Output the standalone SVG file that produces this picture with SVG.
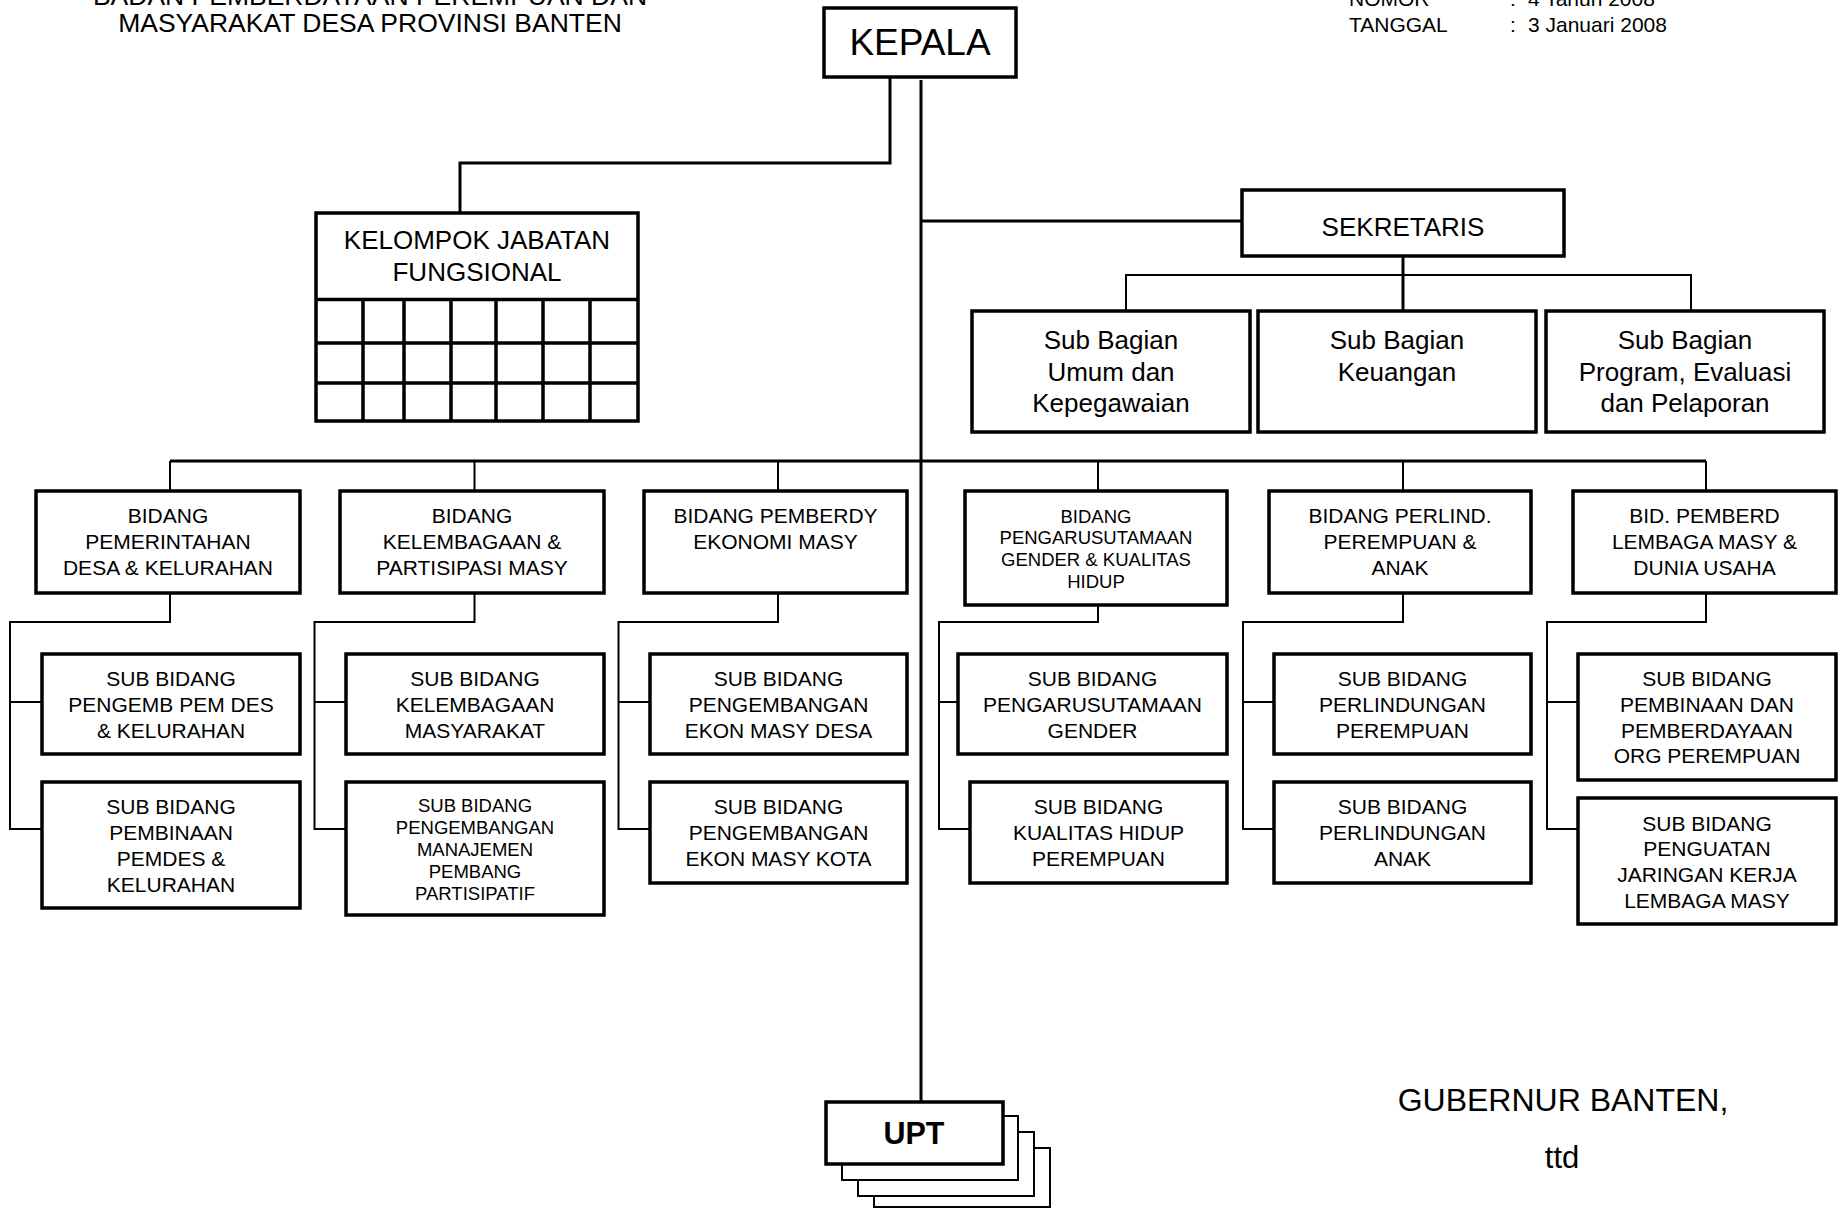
<svg xmlns="http://www.w3.org/2000/svg" width="1842" height="1209" viewBox="0 0 1842 1209">
  <style>
    text { font-family: "Liberation Sans", Arial, sans-serif; fill: #000; text-anchor: middle; }
    .box { fill: #fff; stroke: #000; stroke-width: 3.5; }
    .grid { fill: none; stroke: #000; stroke-width: 3.5; }
    .thick { fill: none; stroke: #000; stroke-width: 3; }
    .thin { fill: none; stroke: #000; stroke-width: 2; }
    .layer { fill: #fff; stroke: #000; stroke-width: 2; }
    .t26 { font-size: 26px; }
    .t21 { font-size: 21px; }
    .t18 { font-size: 18.5px; }
    .hdr { font-size: 21px; text-anchor: start; }
  </style>
  <rect width="1842" height="1209" fill="#fff"/>

  <!-- heading -->
  <g id="heading">
    <text x="370" y="5" style="font-size:26.5px">BADAN PEMBERDAYAAN PEREMPUAN DAN</text>
    <text x="370" y="32" style="font-size:26.5px">MASYARAKAT DESA PROVINSI BANTEN</text>
    <text class="hdr" x="1349" y="6">NOMOR</text>
    <text class="hdr" x="1510" y="6">:</text>
    <text class="hdr" x="1528" y="6">4 Tahun 2008</text>
    <text class="hdr" x="1349" y="32">TANGGAL</text>
    <text class="hdr" x="1510" y="32">:</text>
    <text class="hdr" x="1528" y="32">3 Januari 2008</text>
  </g>

  <!-- connectors -->
  <g id="connectors">
    <path class="thick" d="M890,77 V163 H460 V213"/>
    <path class="thick" d="M921,80 V1102"/>
    <path class="thick" d="M921,221 H1242"/>
    <path class="thick" d="M1403,256 V311"/>
    <path class="thin" d="M1126,311 V275 H1691 V311"/>
    <path class="thick" d="M170,461 H1706"/>
    <path class="thin" d="M170,461 V491 M474.5,461 V491 M778,461 V491 M1098,461 V491 M1403,461 V491 M1706,461 V491"/>
    <path class="thin" d="M170,593 V622 H10 V829 H42 M10,702 H42"/>
    <path class="thin" d="M474.5,593 V622 H314.5 V829 H346 M314.5,702 H346"/>
    <path class="thin" d="M778,593 V622 H618.5 V829 H650 M618.5,702 H650"/>
    <path class="thin" d="M1098,605 V622 H939 V829 H970 M939,702 H958"/>
    <path class="thin" d="M1403,593 V622 H1243 V829 H1274 M1243,702 H1274"/>
    <path class="thin" d="M1706,593 V622 H1547 V829 H1578 M1547,702 H1578"/>
  </g>

  <g id="kepala">
    <rect class="box" x="824" y="8" width="192" height="69"/>
    <text x="920" y="55" style="font-size:37px">KEPALA</text>
  </g>

  <g id="kelompok-jabatan-fungsional">
    <rect class="box" x="316" y="213" width="322" height="208"/>
    <path class="grid" d="M316,299.5 H638 M316,343 H638 M316,383 H638 M363,299.5 V421 M404,299.5 V421 M451,299.5 V421 M496,299.5 V421 M543,299.5 V421 M590,299.5 V421"/>
    <text class="t26" x="477" y="249">KELOMPOK JABATAN</text>
    <text class="t26" x="477" y="281">FUNGSIONAL</text>
  </g>

  <g id="sekretaris">
    <rect class="box" x="1242" y="190" width="322" height="66"/>
    <text class="t26" x="1403" y="236">SEKRETARIS</text>
  </g>

  <g id="subbag-umum">
    <rect class="box" x="972" y="311" width="278" height="121"/>
    <text class="t26" x="1111" y="349">Sub Bagian</text>
    <text class="t26" x="1111" y="381">Umum dan</text>
    <text class="t26" x="1111" y="412">Kepegawaian</text>
  </g>
  <g id="subbag-keuangan">
    <rect class="box" x="1258" y="311" width="278" height="121"/>
    <text class="t26" x="1397" y="349">Sub Bagian</text>
    <text class="t26" x="1397" y="381">Keuangan</text>
  </g>
  <g id="subbag-program">
    <rect class="box" x="1546" y="311" width="278" height="121"/>
    <text class="t26" x="1685" y="349">Sub Bagian</text>
    <text class="t26" x="1685" y="381">Program, Evaluasi</text>
    <text class="t26" x="1685" y="412">dan Pelaporan</text>
  </g>

  <!-- bidang -->
  <g id="bidang-pemerintahan">
    <rect class="box" x="36" y="491" width="264" height="102"/>
    <text class="t21" x="168" y="523">BIDANG</text>
    <text class="t21" x="168" y="549">PEMERINTAHAN</text>
    <text class="t21" x="168" y="575">DESA &amp; KELURAHAN</text>
  </g>
  <g id="bidang-kelembagaan">
    <rect class="box" x="340" y="491" width="264" height="102"/>
    <text class="t21" x="472" y="523">BIDANG</text>
    <text class="t21" x="472" y="549">KELEMBAGAAN &amp;</text>
    <text class="t21" x="472" y="575">PARTISIPASI MASY</text>
  </g>
  <g id="bidang-ekonomi">
    <rect class="box" x="644" y="491" width="263" height="102"/>
    <text class="t21" x="775.5" y="523">BIDANG PEMBERDY</text>
    <text class="t21" x="775.5" y="549">EKONOMI MASY</text>
  </g>
  <g id="bidang-gender">
    <rect class="box" x="965" y="491" width="262" height="114"/>
    <text class="t18" x="1096" y="522.5">BIDANG</text>
    <text class="t18" x="1096" y="544">PENGARUSUTAMAAN</text>
    <text class="t18" x="1096" y="566">GENDER &amp; KUALITAS</text>
    <text class="t18" x="1096" y="588">HIDUP</text>
  </g>
  <g id="bidang-perlindungan">
    <rect class="box" x="1269" y="491" width="262" height="102"/>
    <text class="t21" x="1400" y="523">BIDANG PERLIND.</text>
    <text class="t21" x="1400" y="549">PEREMPUAN &amp;</text>
    <text class="t21" x="1400" y="575">ANAK</text>
  </g>
  <g id="bidang-lembaga">
    <rect class="box" x="1573" y="491" width="263" height="102"/>
    <text class="t21" x="1704.5" y="523">BID. PEMBERD</text>
    <text class="t21" x="1704.5" y="549">LEMBAGA MASY &amp;</text>
    <text class="t21" x="1704.5" y="575">DUNIA USAHA</text>
  </g>

  <!-- sub bidang -->
  <g id="subbid-pengemb-pemdes">
    <rect class="box" x="42" y="654" width="258" height="100"/>
    <text class="t21" x="171" y="686">SUB BIDANG</text>
    <text class="t21" x="171" y="712">PENGEMB PEM DES</text>
    <text class="t21" x="171" y="738">&amp; KELURAHAN</text>
  </g>
  <g id="subbid-pembinaan-pemdes">
    <rect class="box" x="42" y="782" width="258" height="126"/>
    <text class="t21" x="171" y="814">SUB BIDANG</text>
    <text class="t21" x="171" y="840">PEMBINAAN</text>
    <text class="t21" x="171" y="866">PEMDES &amp;</text>
    <text class="t21" x="171" y="892">KELURAHAN</text>
  </g>
  <g id="subbid-kelembagaan">
    <rect class="box" x="346" y="654" width="258" height="100"/>
    <text class="t21" x="475" y="686">SUB BIDANG</text>
    <text class="t21" x="475" y="712">KELEMBAGAAN</text>
    <text class="t21" x="475" y="738">MASYARAKAT</text>
  </g>
  <g id="subbid-manajemen">
    <rect class="box" x="346" y="782" width="258" height="133"/>
    <text class="t18" x="475" y="812">SUB BIDANG</text>
    <text class="t18" x="475" y="834">PENGEMBANGAN</text>
    <text class="t18" x="475" y="856">MANAJEMEN</text>
    <text class="t18" x="475" y="878">PEMBANG</text>
    <text class="t18" x="475" y="900">PARTISIPATIF</text>
  </g>
  <g id="subbid-ekon-desa">
    <rect class="box" x="650" y="654" width="257" height="100"/>
    <text class="t21" x="778.5" y="686">SUB BIDANG</text>
    <text class="t21" x="778.5" y="712">PENGEMBANGAN</text>
    <text class="t21" x="778.5" y="738">EKON MASY DESA</text>
  </g>
  <g id="subbid-ekon-kota">
    <rect class="box" x="650" y="782" width="257" height="101"/>
    <text class="t21" x="778.5" y="814">SUB BIDANG</text>
    <text class="t21" x="778.5" y="840">PENGEMBANGAN</text>
    <text class="t21" x="778.5" y="866">EKON MASY KOTA</text>
  </g>
  <g id="subbid-gender">
    <rect class="box" x="958" y="654" width="269" height="100"/>
    <text class="t21" x="1092.5" y="686">SUB BIDANG</text>
    <text class="t21" x="1092.5" y="712">PENGARUSUTAMAAN</text>
    <text class="t21" x="1092.5" y="738">GENDER</text>
  </g>
  <g id="subbid-kualitas-hidup">
    <rect class="box" x="970" y="782" width="257" height="101"/>
    <text class="t21" x="1098.5" y="814">SUB BIDANG</text>
    <text class="t21" x="1098.5" y="840">KUALITAS HIDUP</text>
    <text class="t21" x="1098.5" y="866">PEREMPUAN</text>
  </g>
  <g id="subbid-perlind-perempuan">
    <rect class="box" x="1274" y="654" width="257" height="100"/>
    <text class="t21" x="1402.5" y="686">SUB BIDANG</text>
    <text class="t21" x="1402.5" y="712">PERLINDUNGAN</text>
    <text class="t21" x="1402.5" y="738">PEREMPUAN</text>
  </g>
  <g id="subbid-perlind-anak">
    <rect class="box" x="1274" y="782" width="257" height="101"/>
    <text class="t21" x="1402.5" y="814">SUB BIDANG</text>
    <text class="t21" x="1402.5" y="840">PERLINDUNGAN</text>
    <text class="t21" x="1402.5" y="866">ANAK</text>
  </g>
  <g id="subbid-org-perempuan">
    <rect class="box" x="1578" y="654" width="258" height="126"/>
    <text class="t21" x="1707" y="686">SUB BIDANG</text>
    <text class="t21" x="1707" y="712">PEMBINAAN DAN</text>
    <text class="t21" x="1707" y="738">PEMBERDAYAAN</text>
    <text class="t21" x="1707" y="763">ORG PEREMPUAN</text>
  </g>
  <g id="subbid-jaringan">
    <rect class="box" x="1578" y="798" width="258" height="126"/>
    <text class="t21" x="1707" y="831">SUB BIDANG</text>
    <text class="t21" x="1707" y="856">PENGUATAN</text>
    <text class="t21" x="1707" y="882">JARINGAN KERJA</text>
    <text class="t21" x="1707" y="908">LEMBAGA MASY</text>
  </g>

  <!-- UPT with stacked sheets behind -->
  <g id="upt">
    <rect class="layer" x="874" y="1148" width="176" height="59"/>
    <rect class="layer" x="858" y="1132" width="176" height="64"/>
    <rect class="layer" x="842" y="1116" width="176" height="64"/>
    <rect class="box" x="826" y="1102" width="177" height="62"/>
    <text x="914" y="1144" style="font-size:30.5px;font-weight:bold">UPT</text>
  </g>

  <g id="signature">
    <text x="1563" y="1111" style="font-size:32px">GUBERNUR BANTEN,</text>
    <text x="1562" y="1168" style="font-size:31px">ttd</text>
  </g>
</svg>
